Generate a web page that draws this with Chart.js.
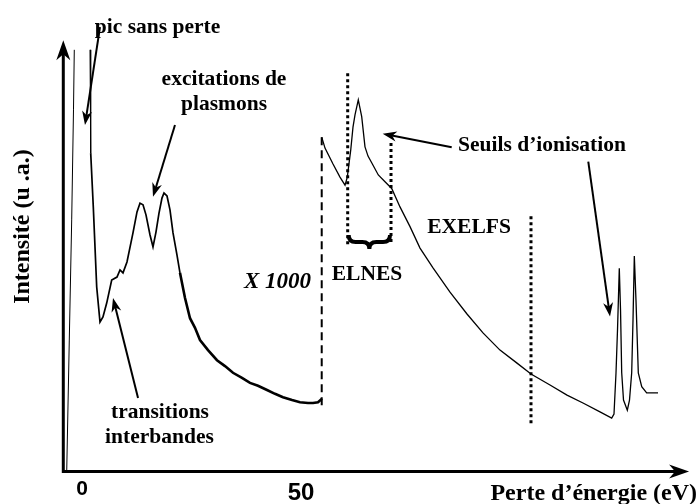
<!DOCTYPE html>
<html lang="fr">
<head>
<meta charset="UTF-8">
<title>Spectre EELS</title>
<script src="https://cdn.jsdelivr.net/npm/chart.js"></script>
<style>
  html, body { margin: 0; padding: 0; background: #fff; }
  #wrap { width: 697px; height: 504px; }
</style>
</head>
<body>
<div id="wrap"><canvas id="spectre" width="697" height="504"></canvas></div>
<script>
// perte faible (pic sans perte + plasmons), energie en eV, intensite en u.a.
const lowLossE = [-3.49, -2.90, -2.35, -1.94, -1.76, -0.5, 1.83, 1.99, 2.58, 3.36, 4.11, 4.79, 5.64, 6.78, 7.99, 8.68, 9.36,
  10.27, 11.64, 12.56, 13.24, 13.93, 14.61, 15.53, 16.21, 16.89, 17.58, 18.26, 18.72, 19.41, 20.09, 20.78, 21.69, 22.37,
  23.52, 24.66, 25.80, 26.94, 28.77, 30.82, 32.65, 34.47, 36.53, 38.36, 40.18, 42.24, 44.06, 45.89, 47.95, 49.77,
  51.60, 52.74, 53.88, 54.79];
const lowLossI = [0, 31.3, 59.9, 86.1, 100.4, null, 100.4, 75.8, 63.0, 43.9, 35.6, 36.8, 40.1, 45.6, 46.3, 48.0, 47.3,
  49.9, 56.8, 61.8, 63.9, 63.5, 61.1, 56.3, 53.5, 57.0, 61.5, 65.1, 66.3, 65.6, 62.3, 56.8, 51.5, 47.3,
  41.3, 36.5, 34.2, 31.3, 28.9, 26.5, 25.1, 23.5, 22.3, 21.1, 20.4, 19.4, 18.5, 17.7, 17.0, 16.5,
  16.3, 16.3, 16.5, 17.3];

// pertes de coeur (x 1000)
const coreLossE = [54.73, 55.48, 57.31, 58.90, 60.05, 60.57, 61.35, 61.87, 62.33, 63.08, 63.86, 64.61, 65.30, 66.14,
  67.65, 69.18, 70.71, 72.60, 74.89, 77.17, 80.14, 84.02, 87.90, 91.55, 95.43, 99.32, 102.51, 106.85, 110.73,
  114.38, 118.26, 120.93, 121.46, 121.92, 122.26, 122.67, 122.95, 123.22, 123.63, 124.50, 125.00, 125.50, 125.80,
  126.10, 126.48, 127.01, 127.79, 128.92, 131.51];
const coreLossI = [79.6, 77.0, 73.2, 70.1, 68.2, 70.1, 76.5, 82.0, 84.9, 88.5, 84.5, 77.3, 75.1, 73.5,
  70.6, 69.0, 67.4, 63.0, 58.3, 53.2, 48.5, 42.7, 37.5, 33.0, 28.9, 25.8, 23.2, 20.6, 18.2,
  16.3, 14.2, 12.7, 13.7, 23.5, 33.7, 48.4, 38.5, 23.5, 17.0, 14.6, 17.0, 23.5, 36.1,
  51.3, 40.8, 23.5, 20.2, 18.7, 18.7];

const tickValues = [0, 50];
const tickLabels = ['0', '50'];

// lignes verticales : [energie, intensite haut, intensite bas]
const dashedMark = [54.73, 79.6, 15.8];
const dottedMarks = [[60.66, 94.8, 53.5], [70.55, 78.2, 54.3], [102.51, 60.8, 11.1]];
const elnesBrace = [60.66, 70.55, 56.3];

const labels = [
  ['pic sans perte', 17.24, 104.4],
  ['excitations de', 32.42, 92.0],
  ['plasmons', 32.42, 86.1],
  ['transitions', 17.81, 12.7],
  ['interbandes', 17.69, 6.8],
  ['Seuils d\u2019ionisation', 105.02, 76.3],
  ['EXELFS', 88.36, 56.8],
  ['ELNES', 65.07, 45.6]
];
const factorLabel = ['X 1000', 44.63, 43.7];

// fleches : depart -> pointe
const arrows = [
  [4.11, 105.8, 0.68, 82.5],
  [21.23, 82.5, 16.21, 65.4],
  [12.79, 17.5, 7.08, 41.3],
  [84.41, 77.2, 68.65, 80.4],
  [115.59, 73.8, 120.55, 36.9]
];

const toPoints = (xs, ys) => xs.map((x, i) => ({ x: x, y: ys[i] }));

function arrowHead(ctx, x0, y0, x1, y1, len, half) {
  const a = Math.atan2(y1 - y0, x1 - x0);
  ctx.save();
  ctx.translate(x1, y1);
  ctx.rotate(a);
  ctx.beginPath();
  ctx.moveTo(0, 0);
  ctx.lineTo(-len, -half);
  ctx.lineTo(-len * 0.7, 0);
  ctx.lineTo(-len, half);
  ctx.closePath();
  ctx.fill();
  ctx.restore();
}

const decor = {
  id: 'decor',
  afterDatasetsDraw(chart) {
    const ctx = chart.ctx;
    const xs = chart.scales.x, ys = chart.scales.y;
    const px = v => xs.getPixelForValue(v);
    const py = v => ys.getPixelForValue(v);
    ctx.save();
    ctx.fillStyle = '#000';
    ctx.strokeStyle = '#000';

    // axes
    const ox = px(-4.27), oy = py(0);
    ctx.lineWidth = 3;
    ctx.beginPath();
    ctx.moveTo(ox, oy + 1);
    ctx.lineTo(ox, py(100));
    ctx.moveTo(ox - 1.5, oy);
    ctx.lineTo(px(136), oy);
    ctx.stroke();
    arrowHead(ctx, ox, oy, ox, py(102.7), 20, 7);
    arrowHead(ctx, ox, oy, px(138.6), oy, 20, 7);

    // ligne pointillee du changement d'echelle
    ctx.lineWidth = 2;
    ctx.setLineDash([8, 5]);
    ctx.beginPath();
    ctx.moveTo(px(dashedMark[0]), py(dashedMark[1]));
    ctx.lineTo(px(dashedMark[0]), py(dashedMark[2]));
    ctx.stroke();

    ctx.lineWidth = 3;
    ctx.setLineDash([3, 3]);
    dottedMarks.forEach(m => {
      ctx.beginPath();
      ctx.moveTo(px(m[0]), py(m[1]));
      ctx.lineTo(px(m[0]), py(m[2]));
      ctx.stroke();
    });
    ctx.setLineDash([]);

    // accolade ELNES
    const bx1 = px(elnesBrace[0]) + 1, bx2 = px(elnesBrace[1]) - 1, by = py(elnesBrace[2]);
    const bm = (bx1 + bx2) / 2, h = 14;
    ctx.lineWidth = 4;
    ctx.beginPath();
    ctx.moveTo(bx1, by);
    ctx.quadraticCurveTo(bx1, by + h / 2, bx1 + 7, by + h / 2);
    ctx.lineTo(bm - 7, by + h / 2);
    ctx.quadraticCurveTo(bm, by + h / 2, bm, by + h);
    ctx.quadraticCurveTo(bm, by + h / 2, bm + 7, by + h / 2);
    ctx.lineTo(bx2 - 7, by + h / 2);
    ctx.quadraticCurveTo(bx2, by + h / 2, bx2, by);
    ctx.stroke();

    // fleches
    ctx.lineWidth = 2;
    arrows.forEach(a => {
      const x0 = px(a[0]), y0 = py(a[1]), x1 = px(a[2]), y1 = py(a[3]);
      const d = Math.hypot(x1 - x0, y1 - y0);
      ctx.beginPath();
      ctx.moveTo(x0, y0);
      ctx.lineTo(x1 - (x1 - x0) / d * 8, y1 - (y1 - y0) / d * 8);
      ctx.stroke();
      arrowHead(ctx, x0, y0, x1, y1, 14, 5);
    });

    // textes
    ctx.textAlign = 'center';
    ctx.textBaseline = 'alphabetic';
    ctx.font = 'bold 21.5px "Liberation Serif", "Times New Roman", serif';
    labels.forEach(l => ctx.fillText(l[0], px(l[1]), py(l[2])));
    ctx.font = 'italic bold 23px "Liberation Serif", "Times New Roman", serif';
    ctx.fillText(factorLabel[0], px(factorLabel[1]), py(factorLabel[2]));

    ctx.font = 'bold 21px "Liberation Sans", Arial, sans-serif';
    ctx.fillText(tickLabels[0], px(tickValues[0]), oy + 23);
    ctx.font = 'bold 24px "Liberation Sans", Arial, sans-serif';
    ctx.fillText(tickLabels[1], px(tickValues[1]), oy + 28);

    ctx.font = 'bold 24px "Liberation Serif", "Times New Roman", serif';
    ctx.textAlign = 'right';
    ctx.fillText('Perte d\u2019\u00e9nergie (eV)', 697, oy + 28);

    ctx.save();
    ctx.translate(29, 226.5);
    ctx.rotate(-Math.PI / 2);
    ctx.textAlign = 'center';
    ctx.fillText('Intensit\u00e9 (u .a.)', 0, 0);
    ctx.restore();

    ctx.restore();
  }
};

new Chart(document.getElementById('spectre').getContext('2d'), {
  type: 'line',
  data: {
    datasets: [{
      label: 'perte faible',
      data: toPoints(lowLossE, lowLossI),
      borderColor: '#000',
      pointRadius: 0,
      tension: 0,
      spanGaps: false,
      segment: {
        borderWidth: c => c.p0.parsed.x < 1.9 ? 1 : (c.p0.parsed.x < 22 ? 1.7 : 2.6)
      }
    }, {
      label: 'pertes de coeur x 1000',
      data: toPoints(coreLossE, coreLossI),
      borderColor: '#000',
      borderWidth: 1.3,
      pointRadius: 0,
      tension: 0
    }]
  },
  options: {
    responsive: false,
    animation: false,
    layout: { padding: 0 },
    plugins: { legend: { display: false }, tooltip: { enabled: false } },
    scales: {
      x: { type: 'linear', display: false, min: -18.72, max: 140.41 },
      y: { type: 'linear', display: false, min: -7.738, max: 112.262 }
    }
  },
  plugins: [decor]
});
</script>
</body>
</html>
